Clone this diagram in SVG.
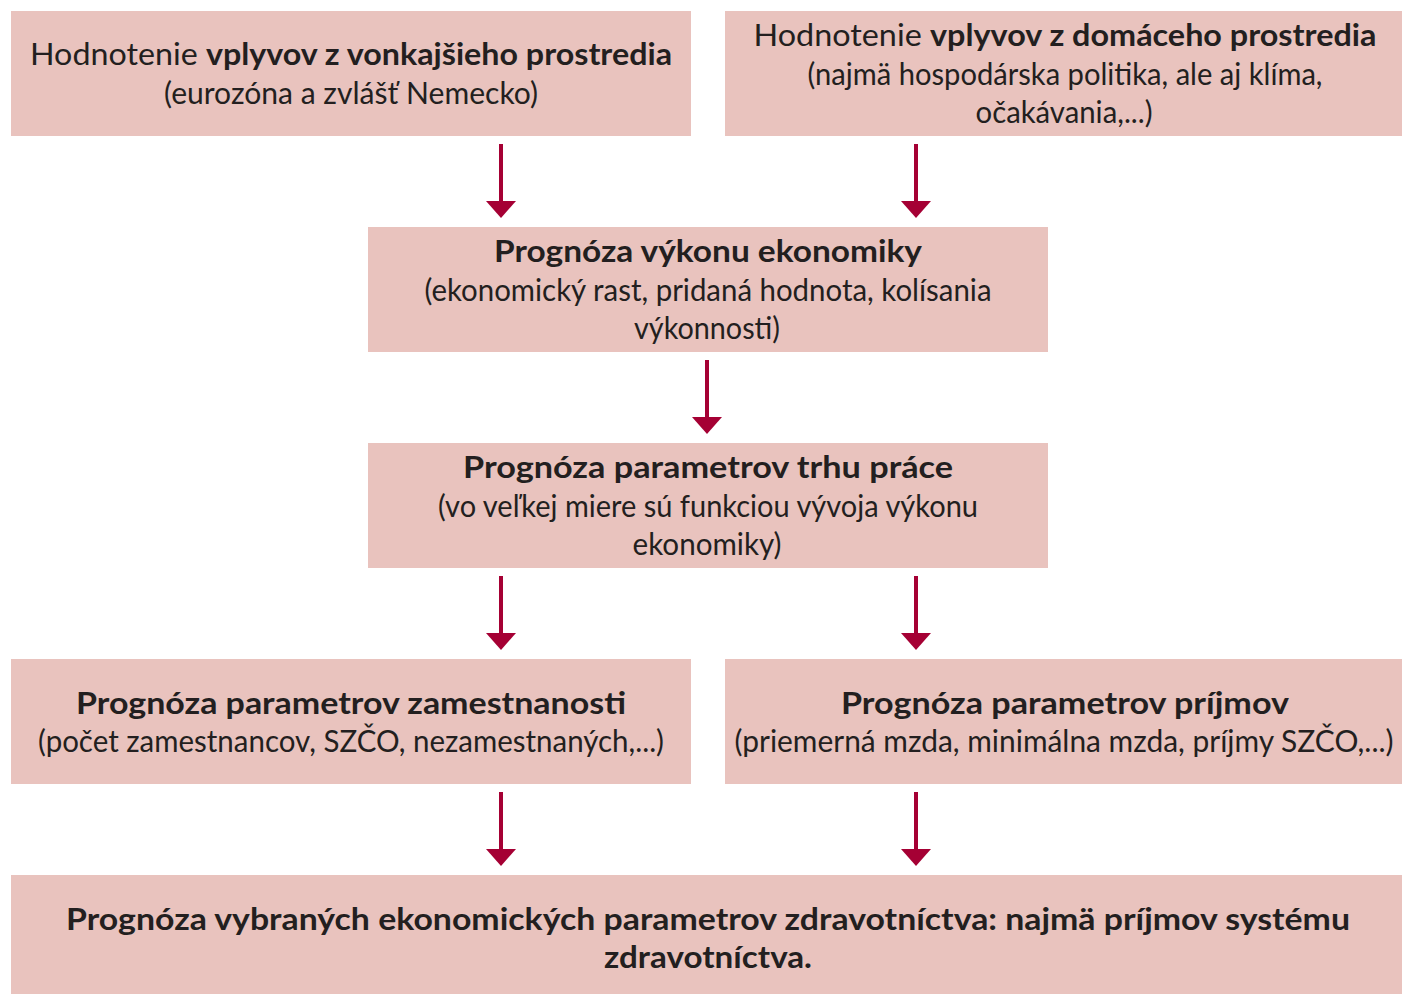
<svg xmlns="http://www.w3.org/2000/svg" width="1402" height="994" viewBox="0 0 1402 994">
<style>
.box{fill:#E9C3BE}
text{font-family:Lato,"Open Sans",sans-serif;font-size:30px;fill:#231F20;text-anchor:middle}
.b{font-weight:bold}
.arr{stroke:#A50034;stroke-width:4;fill:none}
.head{fill:#A50034}
</style>
<rect width="1402" height="994" fill="#FFFFFF"/>
<g id="n1"><rect class="box" x="11" y="11" width="680" height="125"/>
<text x="351" y="65" textLength="642" lengthAdjust="spacingAndGlyphs">Hodnotenie <tspan class="b">vplyvov z vonkajšieho prostredia</tspan></text>
<text x="351" y="104" textLength="374" lengthAdjust="spacingAndGlyphs">(eurozóna a zvlášť Nemecko)</text></g>
<g id="n2"><rect class="box" x="725" y="11" width="677" height="125"/>
<text x="1065" y="46" textLength="623" lengthAdjust="spacingAndGlyphs">Hodnotenie <tspan class="b">vplyvov z domáceho prostredia</tspan></text>
<text x="1065" y="85" textLength="515" lengthAdjust="spacingAndGlyphs">(najmä hospodárska politika, ale aj klíma,</text>
<text x="1064" y="123" textLength="177" lengthAdjust="spacingAndGlyphs">očakávania,...)</text></g>
<g id="n3"><rect class="box" x="368" y="227" width="680" height="125"/>
<text class="b" x="708" y="262" textLength="428" lengthAdjust="spacingAndGlyphs">Prognóza výkonu ekonomiky</text>
<text x="708" y="301" textLength="567" lengthAdjust="spacingAndGlyphs">(ekonomický rast, pridaná hodnota, kolísania</text>
<text x="707" y="339" textLength="146" lengthAdjust="spacingAndGlyphs">výkonnosti)</text></g>
<g id="n4"><rect class="box" x="368" y="443" width="680" height="125"/>
<text class="b" x="708" y="478" textLength="490" lengthAdjust="spacingAndGlyphs">Prognóza parametrov trhu práce</text>
<text x="708" y="517" textLength="540" lengthAdjust="spacingAndGlyphs">(vo veľkej miere sú funkciou vývoja výkonu</text>
<text x="707" y="555" textLength="149" lengthAdjust="spacingAndGlyphs">ekonomiky)</text></g>
<g id="n5"><rect class="box" x="11" y="659" width="680" height="125"/>
<text class="b" x="351" y="714" textLength="550" lengthAdjust="spacingAndGlyphs">Prognóza parametrov zamestnanosti</text>
<text x="351" y="752" textLength="626" lengthAdjust="spacingAndGlyphs">(počet zamestnancov, SZČO, nezamestnaných,...)</text></g>
<g id="n6"><rect class="box" x="725" y="659" width="677" height="125"/>
<text class="b" x="1065" y="714" textLength="448" lengthAdjust="spacingAndGlyphs">Prognóza parametrov príjmov</text>
<text x="1064" y="752" textLength="659" lengthAdjust="spacingAndGlyphs">(priemerná mzda, minimálna mzda, príjmy SZČO,...)</text></g>
<g id="n7"><rect class="box" x="11" y="875" width="1391" height="119"/>
<text class="b" x="708" y="930" textLength="1284" lengthAdjust="spacingAndGlyphs">Prognóza vybraných ekonomických parametrov zdravotníctva: najmä príjmov systému</text>
<text class="b" x="708" y="968" textLength="208" lengthAdjust="spacingAndGlyphs">zdravotníctva.</text></g>
<g id="connectors">
<path class="arr" d="M501,144 V202"/><path class="head" d="M486,201 H516 L501,218 Z"/>
<path class="arr" d="M916,144 V202"/><path class="head" d="M901,201 H931 L916,218 Z"/>
<path class="arr" d="M707,360 V418"/><path class="head" d="M692,417 H722 L707,434 Z"/>
<path class="arr" d="M501,576 V634"/><path class="head" d="M486,633 H516 L501,650 Z"/>
<path class="arr" d="M916,576 V634"/><path class="head" d="M901,633 H931 L916,650 Z"/>
<path class="arr" d="M501,792 V850"/><path class="head" d="M486,849 H516 L501,866 Z"/>
<path class="arr" d="M916,792 V850"/><path class="head" d="M901,849 H931 L916,866 Z"/>
</g>
</svg>
